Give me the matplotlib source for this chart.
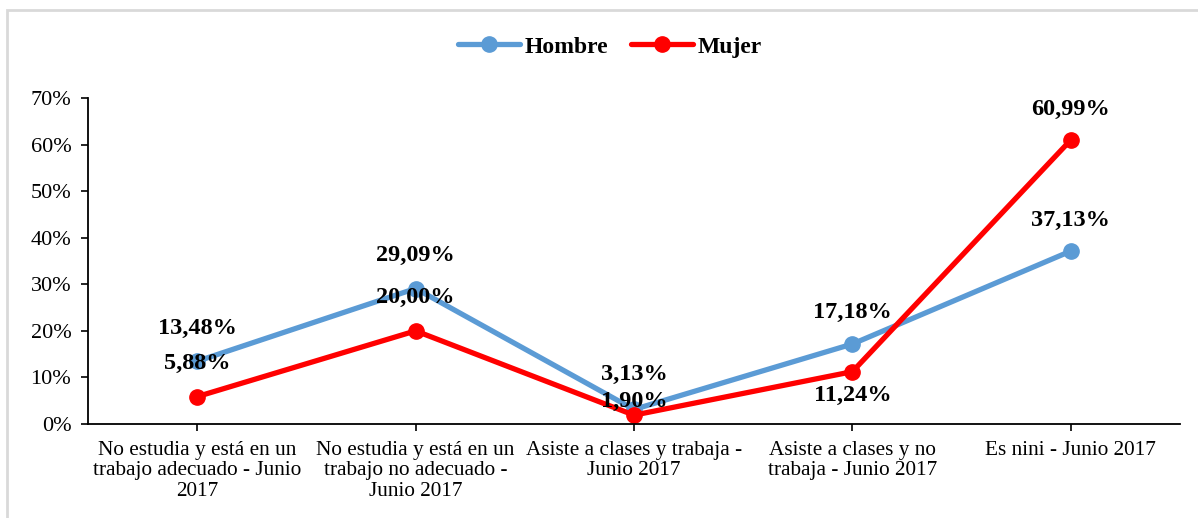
import matplotlib.pyplot as plt
from matplotlib.patches import Rectangle

categorias = [
    "No estudia y está en un\ntrabajo adecuado - Junio\n2017",
    "No estudia y está en un\ntrabajo no adecuado -\nJunio 2017",
    "Asiste a clases y trabaja -\nJunio 2017",
    "Asiste a clases y no\ntrabaja - Junio 2017",
    "Es nini - Junio 2017",
]
hombre = [13.48, 29.09, 3.13, 17.18, 37.13]
mujer = [5.88, 20.00, 1.90, 11.24, 60.99]
yticks = [0, 10, 20, 30, 40, 50, 60, 70]

# desplazamiento vertical de las etiquetas (px)
off_hombre = [33, 33, 35, 32, 31]
off_mujer = [33, 33, 14, -24, 31]

plt.rcParams['font.family'] = ['Liberation Serif', 'DejaVu Serif']

fig = plt.figure(figsize=(11.98, 5.18), dpi=100)
ax = fig.add_axes([88 / 1198, 1 - 424 / 518, (1180 - 88) / 1198, (424 - 98) / 518])

# marco gris del grafico
fig.patches.append(Rectangle((7 / 1198, -0.1), 1.2, 1 - 10 / 518 + 0.1,
                             transform=fig.transFigure, fill=False,
                             edgecolor='#d9d9d9', linewidth=2))

x = list(range(len(categorias)))
ax.plot(x, hombre, color='#5B9BD5', linewidth=3.8, marker='o', markersize=11,
        label='Hombre', solid_capstyle='round')
ax.plot(x, mujer, color='#FF0000', linewidth=3.8, marker='o', markersize=11,
        label='Mujer', solid_capstyle='round')

px = 72 / 100
for serie, offs in [(hombre, off_hombre), (mujer, off_mujer)]:
    for i, v in enumerate(serie):
        ax.annotate(f"{v:.2f}%".replace('.', ','), (i, v), xytext=(0, offs[i] * px),
                    textcoords='offset points', ha='center', va='center',
                    fontsize=17.5, fontweight='bold')

ax.set_xlim(-0.5, 4.5)
ax.set_ylim(0, 70)
ax.set_yticks(yticks)
ax.set_yticklabels([f"{t}%" for t in yticks], fontsize=16)
ax.set_xticks(x)
ax.set_xticklabels(categorias, fontsize=15.3, linespacing=1.12)
ax.tick_params(axis='y', length=5, width=1.2, pad=7)
ax.tick_params(axis='x', length=5, width=1.2, pad=7)

for s in ['top', 'right']:
    ax.spines[s].set_visible(False)
for s in ['left', 'bottom']:
    ax.spines[s].set_linewidth(1.3)

leg = fig.legend(loc='center', bbox_to_anchor=(610 / 1198, 1 - 47 / 518), ncol=2,
                 frameon=False, prop={'weight': 'bold', 'size': 17},
                 handlelength=2.6, columnspacing=1.0, handletextpad=0.2)

fig.savefig('out.png', dpi=100)
